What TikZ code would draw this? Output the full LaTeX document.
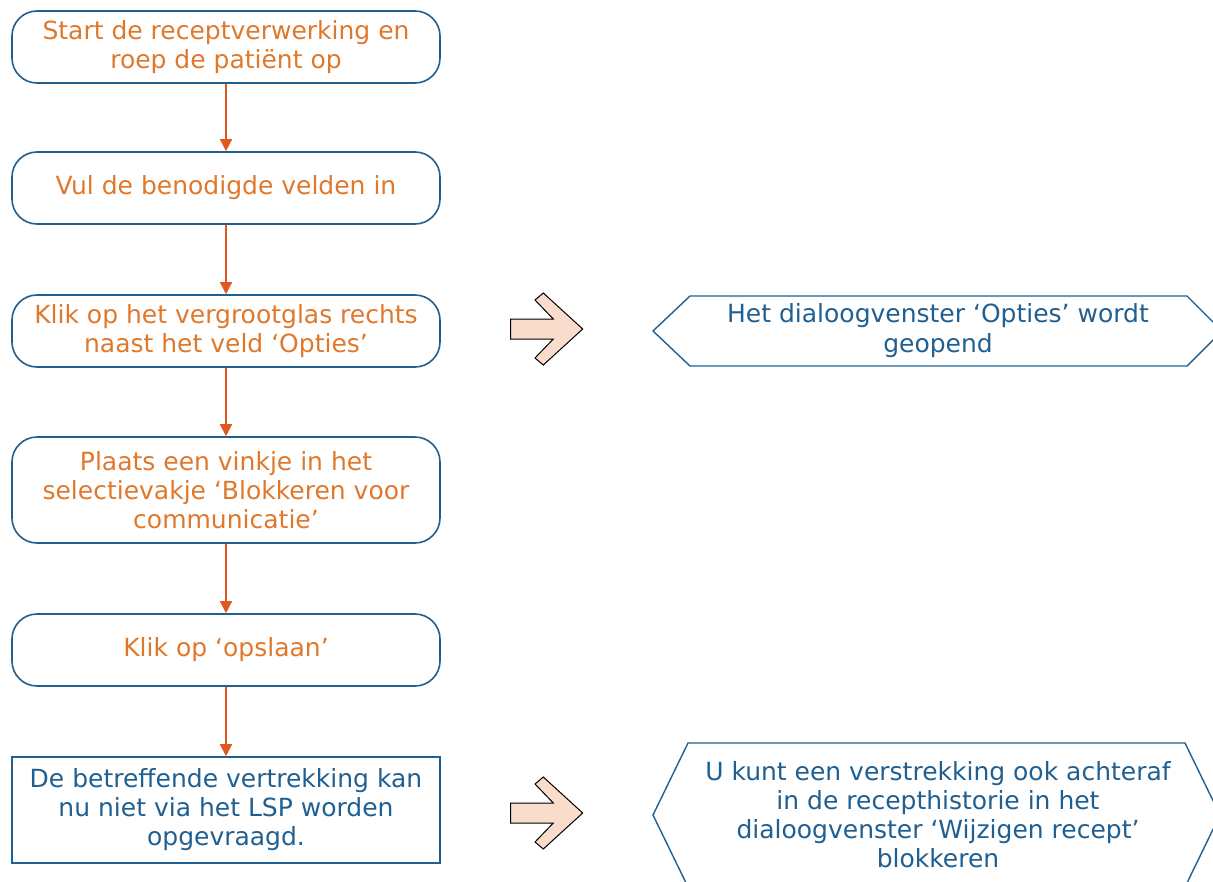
\documentclass[tikz,border=0pt]{standalone}
\usepackage{fontspec}
\setmainfont{DejaVu Sans}
\usepackage{tikz}
\usetikzlibrary{arrows.meta,positioning}

\definecolor{boxblue}{RGB}{31,95,145}
\definecolor{txtorange}{RGB}{224,120,44}
\definecolor{lineorange}{RGB}{224,88,30}
\definecolor{peach}{RGB}{249,220,203}

\tikzset{
	stap/.style={draw=boxblue,line width=1.6pt,rounded corners=25pt,minimum width=428pt,
		minimum height=72pt,text=txtorange,align=center,inner sep=0pt,
		font=\fontsize{25}{29}\selectfont},
	eind/.style={stap,rounded corners=0pt,text=boxblue},
	pijl/.style={lineorange,line width=1.4pt,-{Triangle[width=12pt,length=12pt]}},
	blokpijl/.style={draw=black,line width=1pt,fill=peach,line join=miter},
	hexlijn/.style={draw=boxblue,line width=1.4pt},
	hextekst/.style={text=boxblue,align=center,font=\fontsize{25}{30}\selectfont}
}

\begin{document}
\begin{tikzpicture}[x=1pt,y=-1pt]
	\useasboundingbox (0,0) rectangle (1213,881);
	% stappen
	\node[stap] (b1) at (226,47) {Start de receptverwerking en\\roep de patiënt op};
	\node[stap] (b2) at (226,188) {Vul de benodigde velden in};
	\node[stap] (b3) at (226,331) {Klik op het vergrootglas rechts\\naast het veld ‘Opties’};
	\node[stap,minimum height=106pt] (b4) at (226,490) {Plaats een vinkje in het\\selectievakje ‘Blokkeren voor\\communicatie’};
	\node[stap] (b5) at (226,650) {Klik op ‘opslaan’};
	\node[eind,minimum height=106pt] (b6) at (226,810) {De betreffende vertrekking kan\\nu niet via het LSP worden\\opgevraagd.};
	\draw[pijl] (b1) -- (b2);
	\draw[pijl] (b2) -- (b3);
	\draw[pijl] (b3) -- (b4);
	\draw[pijl] (b4) -- (b5);
	\draw[pijl] (b5) -- (b6);
	% blokpijlen
	\foreach \yy in {329,813}
		\draw[blokpijl,shift={(0,\yy)}] (510.7,-10) -- (553.3,-10) -- (535,-29) -- (543.3,-36)
			-- (582.7,0) -- (543.3,36) -- (535,29) -- (553.3,10) -- (510.7,10) -- cycle;
	% zeshoeken
	\draw[hexlijn] (653,331) -- (690,296) -- (1187,296) -- (1222,331) -- (1187,366) -- (690,366) -- cycle;
	\node[hextekst] (h1) at (938,331) {Het dialoogvenster ‘Opties’ wordt\\geopend};
	\draw[hexlijn] (653,815) -- (688,743) -- (1185,743) -- (1220,815) -- (1185,887) -- (688,887) -- cycle;
	\node[hextekst,font=\fontsize{25}{29}\selectfont] (h2) at (938,815) {U kunt een verstrekking ook achteraf\\in de recepthistorie in het\\dialoogvenster ‘Wijzigen recept’\\blokkeren};
\end{tikzpicture}
\end{document}
